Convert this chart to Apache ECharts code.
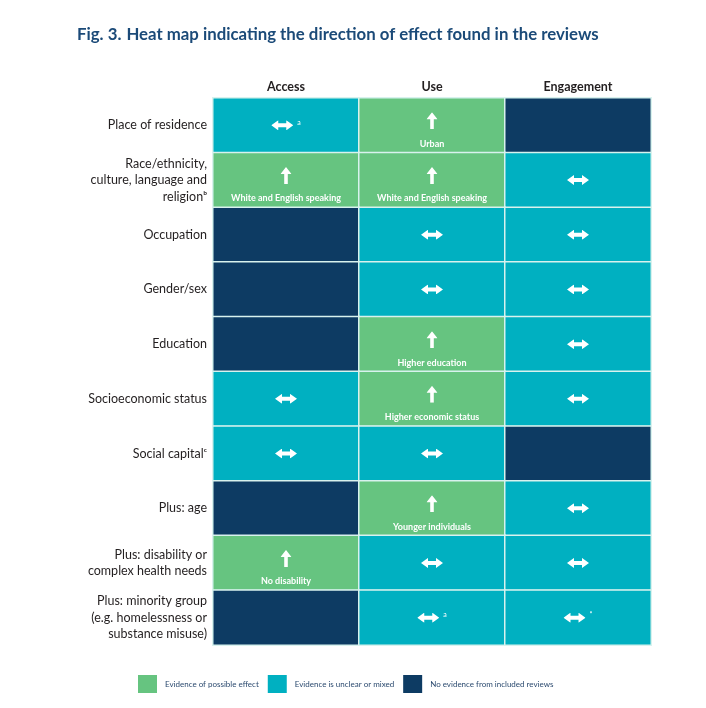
<!DOCTYPE html>
<html>
<head>
<meta charset="utf-8">
<script src="https://cdn.jsdelivr.net/npm/echarts@6/dist/echarts.min.js"></script>
<style>
html,body{margin:0;padding:0;background:#fff;}
#chart{width:706px;height:708px;}
</style>
</head>
<body>
<div id="chart"></div>
<script>
// ---- data ----
var columns = ['Access', 'Use', 'Engagement'];
var rows = [
  'Place of residence',
  'Race/ethnicity,\nculture, language and\nreligion\u1d47',
  'Occupation',
  'Gender/sex',
  'Education',
  'Socioeconomic status',
  'Social capital\u1d9c',
  'Plus: age',
  'Plus: disability or\ncomplex health needs',
  'Plus: minority group\n(e.g. homelessness or\nsubstance misuse)'
];
// 0 = evidence of possible effect, 1 = unclear or mixed, 2 = no evidence
var evidence = [
  [1, 0, 2],
  [0, 0, 1],
  [2, 1, 1],
  [2, 1, 1],
  [2, 0, 1],
  [1, 0, 1],
  [1, 1, 2],
  [2, 0, 1],
  [0, 1, 1],
  [2, 1, 1]
];
var subtexts = [
  ['', 'Urban', ''],
  ['White and English speaking', 'White and English speaking', ''],
  ['', '', ''],
  ['', '', ''],
  ['', 'Higher education', ''],
  ['', 'Higher economic status', ''],
  ['', '', ''],
  ['', 'Younger individuals', ''],
  ['No disability', '', ''],
  ['', '', '']
];
var notes = [
  ['a', '', ''],
  ['', '', ''],
  ['', '', ''],
  ['', '', ''],
  ['', '', ''],
  ['', '', ''],
  ['', '', ''],
  ['', '', ''],
  ['', '', ''],
  ['', 'a', '*']
];
var legendLabels = ['Evidence of possible effect', 'Evidence is unclear or mixed', 'No evidence from included reviews'];
var colors = ['#66C480', '#00B0C1', '#0D3B63'];
// arrow glyph per category: up = possible effect, both ways = unclear/mixed
var arrowKinds = ['up', 'both', ''];

// ---- arrow glyph images ----
function svgUrl(w, h, path) {
  return 'data:image/svg+xml;charset=utf-8,' + encodeURIComponent(
    '<svg xmlns="http://www.w3.org/2000/svg" width="' + w + '" height="' + h + '" viewBox="0 0 ' + w + ' ' + h + '">' +
    '<path fill="#ffffff" d="' + path + '"/></svg>');
}
var upImg = svgUrl(11, 17, 'M5.5 0 L11 7 L7.3 7 L7.3 17 L3.7 17 L3.7 7 L0 7 Z');
var bothImg = svgUrl(22, 10, 'M0 5 L7 0 L7 3 L15 3 L15 0 L22 5 L15 10 L15 7 L7 7 L7 10 Z');

// ---- build ----
var data = [];
for (var r = 0; r < rows.length; r++) {
  for (var c = 0; c < columns.length; c++) {
    var cat = evidence[r][c];
    var kind = arrowKinds[cat];
    var sub = subtexts[r][c];
    var note = notes[r][c];
    var txt = '';
    if (kind) {
      var key = kind + (sub ? 'T' : '');
      txt = '{' + key + '| }' + (note ? '{sup|' + note + '}' : '');
      if (sub) txt += '\n{sub|' + sub + '}';
    }
    data.push({ value: [c, r, cat], label: { formatter: txt } });
  }
}

var chart = echarts.init(document.getElementById('chart'), null, { renderer: 'canvas' });
chart.setOption({
  backgroundColor: '#fff',
  animation: false,
  title: {
    left: 72, top: 21,
    text: '{b|Fig. 3.} {m|Heat map indicating the direction of effect found in the reviews}',
    textStyle: {
      rich: {
        b: { fontFamily: 'Lato', fontWeight: 'bold', fontSize: 16.8, color: '#1B4A78' },
        m: { fontFamily: 'Lato', fontWeight: 'bold', fontSize: 16.8, color: '#1B4A78' }
      }
    }
  },
  grid: { left: 213, right: 55, top: 98, bottom: 63 },
  xAxis: {
    type: 'category', data: columns, position: 'top',
    axisLine: { show: false }, axisTick: { show: false }, splitLine: { show: false },
    axisLabel: { fontFamily: 'Lato', fontWeight: 'bold', fontSize: 12.5, color: '#231F20', margin: 5 }
  },
  yAxis: {
    type: 'category', data: rows, inverse: true,
    axisLine: { show: false }, axisTick: { show: false }, splitLine: { show: false },
    axisLabel: { fontFamily: 'Lato', fontSize: 12.5, color: '#231F20', margin: 6, lineHeight: 16.5, align: 'right' }
  },
  visualMap: {
    type: 'piecewise', dimension: 2, orient: 'horizontal',
    left: 123, top: 660, itemWidth: 19, itemHeight: 18, itemGap: 9, itemSymbol: 'rect',
    textGap: 8, selectedMode: false,
    textStyle: { fontFamily: 'Lato', fontSize: 8, color: '#2B4A6F' },
    pieces: [
      { value: 0, label: legendLabels[0], color: colors[0] },
      { value: 1, label: legendLabels[1], color: colors[1] },
      { value: 2, label: legendLabels[2], color: colors[2] }
    ]
  },
  series: [{
    type: 'heatmap',
    data: data,
    itemStyle: { borderColor: '#D8F2EE', borderWidth: 1.5 },
    emphasis: { disabled: true },
    label: {
      show: true,
      color: '#fff',
      rich: {
        both: { width: 22, height: 10, backgroundColor: { image: bothImg } },
        up: { width: 11, height: 17, backgroundColor: { image: upImg } },
        upT: { width: 11, height: 17, lineHeight: 37, backgroundColor: { image: upImg } },
        bothT: { width: 22, height: 10, lineHeight: 37, backgroundColor: { image: bothImg } },
        sup: { fontFamily: 'Lato', fontSize: 7, color: '#fff', padding: [0, 0, 6, 4] },
        sub: { fontFamily: 'Lato', fontSize: 9, color: '#fff', fontWeight: 'bold', lineHeight: 9 }
      }
    }
  }]
});
</script>
</body>
</html>
